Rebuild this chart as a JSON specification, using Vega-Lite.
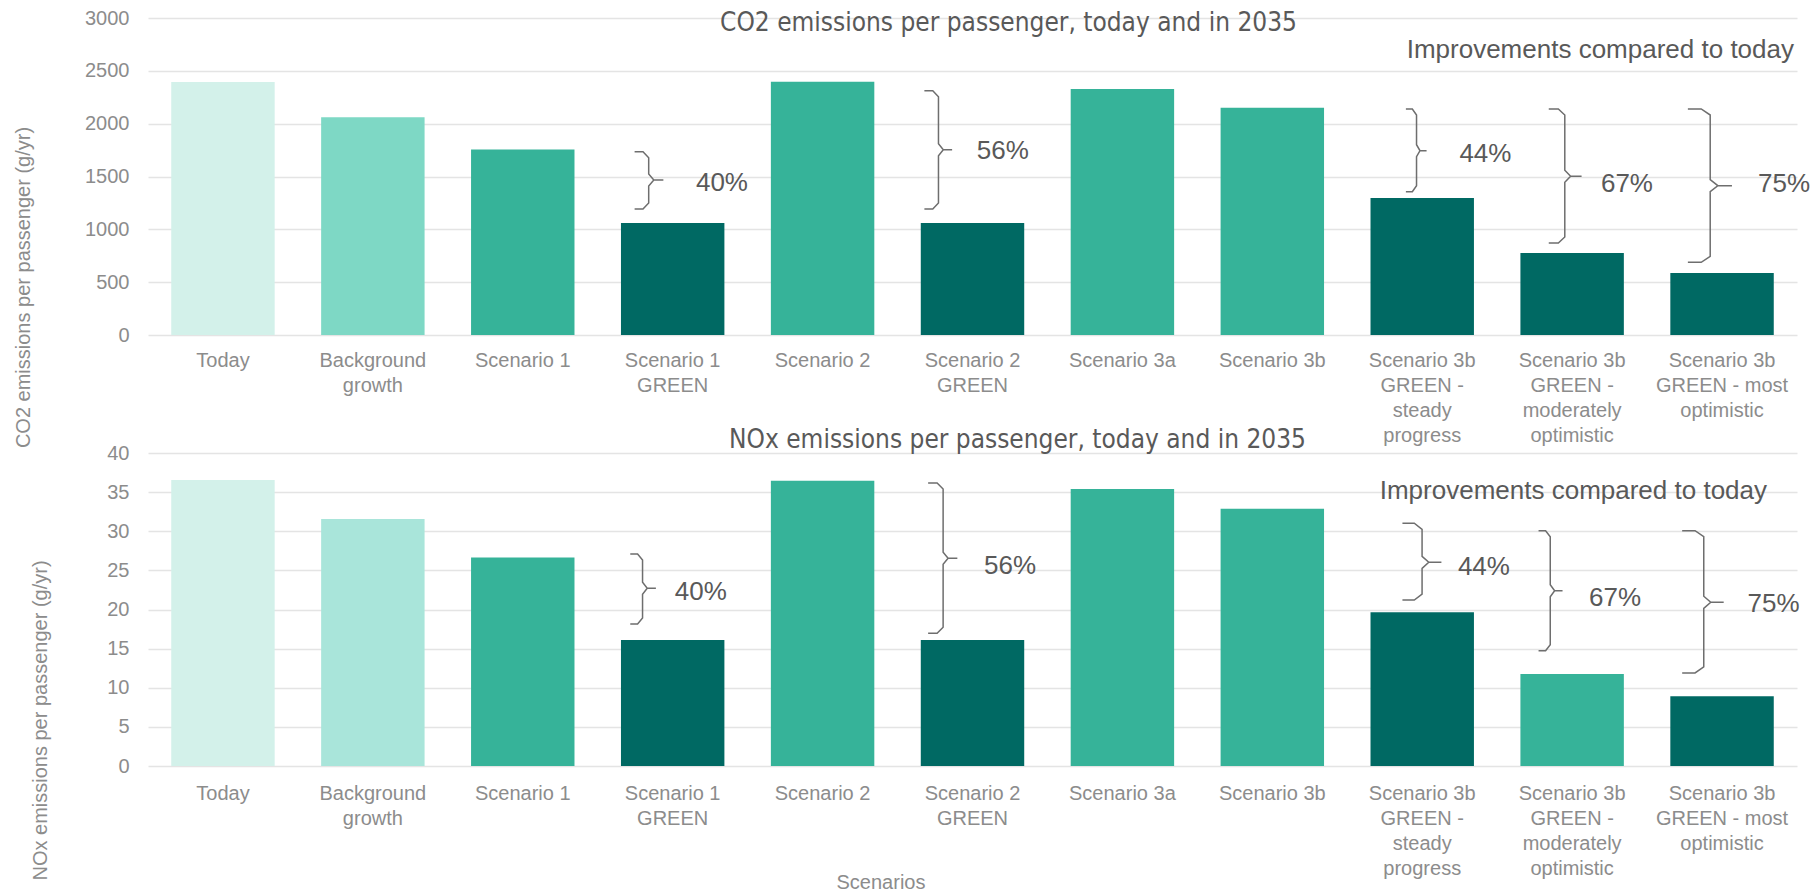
{
  "$schema": "https://vega.github.io/schema/vega-lite/v6.json",
  "background": "white",
  "padding": {"left": 13, "top": 8, "right": 0, "bottom": 0},
  "config": {"view": {"stroke": null}, "font": "Liberation Sans"},
  "datasets": {
    "co2": [
      {"scenario": "Today", "value": 2395, "kind": "Today"},
      {"scenario": "Background growth", "value": 2060, "kind": "Background"},
      {"scenario": "Scenario 1", "value": 1755, "kind": "Scenario"},
      {"scenario": "Scenario 1 GREEN", "value": 1060, "kind": "GREEN"},
      {"scenario": "Scenario 2", "value": 2397, "kind": "Scenario"},
      {"scenario": "Scenario 2 GREEN", "value": 1060, "kind": "GREEN"},
      {"scenario": "Scenario 3a", "value": 2328, "kind": "Scenario"},
      {"scenario": "Scenario 3b", "value": 2150, "kind": "Scenario"},
      {"scenario": "Scenario 3b GREEN - steady progress", "value": 1296, "kind": "GREEN"},
      {"scenario": "Scenario 3b GREEN - moderately optimistic", "value": 776, "kind": "GREEN"},
      {"scenario": "Scenario 3b GREEN - most optimistic", "value": 587, "kind": "GREEN"}
    ],
    "nox": [
      {"scenario": "Today", "value": 36.55, "kind": "Today"},
      {"scenario": "Background growth", "value": 31.57, "kind": "Background"},
      {"scenario": "Scenario 1", "value": 26.65, "kind": "Scenario"},
      {"scenario": "Scenario 1 GREEN", "value": 16.1, "kind": "GREEN"},
      {"scenario": "Scenario 2", "value": 36.46, "kind": "Scenario"},
      {"scenario": "Scenario 2 GREEN", "value": 16.1, "kind": "GREEN"},
      {"scenario": "Scenario 3a", "value": 35.4, "kind": "Scenario"},
      {"scenario": "Scenario 3b", "value": 32.86, "kind": "Scenario"},
      {"scenario": "Scenario 3b GREEN - steady progress", "value": 19.64, "kind": "GREEN"},
      {"scenario": "Scenario 3b GREEN - moderately optimistic", "value": 11.76, "kind": "Scenario"},
      {"scenario": "Scenario 3b GREEN - most optimistic", "value": 8.9, "kind": "GREEN"}
    ],
    "co2Brace": [
      {"gap": "40%", "step": 0, "pos": 3.246, "value": 1735},
      {"gap": "40%", "step": 1, "pos": 3.302, "value": 1735},
      {"gap": "40%", "step": 2, "pos": 3.34, "value": 1678},
      {"gap": "40%", "step": 3, "pos": 3.34, "value": 1524},
      {"gap": "40%", "step": 4, "pos": 3.374, "value": 1467},
      {"gap": "40%", "step": 5, "pos": 3.438, "value": 1467},
      {"gap": "40%", "step": 6, "pos": 3.374, "value": 1467},
      {"gap": "40%", "step": 7, "pos": 3.34, "value": 1410},
      {"gap": "40%", "step": 8, "pos": 3.34, "value": 1249},
      {"gap": "40%", "step": 9, "pos": 3.302, "value": 1192},
      {"gap": "40%", "step": 10, "pos": 3.246, "value": 1192},
      {"gap": "56%", "step": 0, "pos": 5.179, "value": 2312},
      {"gap": "56%", "step": 1, "pos": 5.235, "value": 2312},
      {"gap": "56%", "step": 2, "pos": 5.273, "value": 2255},
      {"gap": "56%", "step": 3, "pos": 5.273, "value": 1811},
      {"gap": "56%", "step": 4, "pos": 5.305, "value": 1754},
      {"gap": "56%", "step": 5, "pos": 5.364, "value": 1754},
      {"gap": "56%", "step": 6, "pos": 5.305, "value": 1754},
      {"gap": "56%", "step": 7, "pos": 5.273, "value": 1697},
      {"gap": "56%", "step": 8, "pos": 5.273, "value": 1249},
      {"gap": "56%", "step": 9, "pos": 5.235, "value": 1192},
      {"gap": "56%", "step": 10, "pos": 5.179, "value": 1192},
      {"gap": "44%", "step": 0, "pos": 8.391, "value": 2139},
      {"gap": "44%", "step": 1, "pos": 8.434, "value": 2139},
      {"gap": "44%", "step": 2, "pos": 8.462, "value": 2082},
      {"gap": "44%", "step": 3, "pos": 8.462, "value": 1801},
      {"gap": "44%", "step": 4, "pos": 8.485, "value": 1744},
      {"gap": "44%", "step": 5, "pos": 8.529, "value": 1744},
      {"gap": "44%", "step": 6, "pos": 8.485, "value": 1744},
      {"gap": "44%", "step": 7, "pos": 8.462, "value": 1687},
      {"gap": "44%", "step": 8, "pos": 8.462, "value": 1413},
      {"gap": "44%", "step": 9, "pos": 8.434, "value": 1356},
      {"gap": "44%", "step": 10, "pos": 8.391, "value": 1356},
      {"gap": "67%", "step": 0, "pos": 9.344, "value": 2139},
      {"gap": "67%", "step": 1, "pos": 9.408, "value": 2139},
      {"gap": "67%", "step": 2, "pos": 9.451, "value": 2082},
      {"gap": "67%", "step": 3, "pos": 9.451, "value": 1559},
      {"gap": "67%", "step": 4, "pos": 9.49, "value": 1502},
      {"gap": "67%", "step": 5, "pos": 9.563, "value": 1502},
      {"gap": "67%", "step": 6, "pos": 9.49, "value": 1502},
      {"gap": "67%", "step": 7, "pos": 9.451, "value": 1445},
      {"gap": "67%", "step": 8, "pos": 9.451, "value": 928},
      {"gap": "67%", "step": 9, "pos": 9.408, "value": 871},
      {"gap": "67%", "step": 10, "pos": 9.344, "value": 871},
      {"gap": "75%", "step": 0, "pos": 10.272, "value": 2139},
      {"gap": "75%", "step": 1, "pos": 10.361, "value": 2139},
      {"gap": "75%", "step": 2, "pos": 10.421, "value": 2082},
      {"gap": "75%", "step": 3, "pos": 10.421, "value": 1470},
      {"gap": "75%", "step": 4, "pos": 10.472, "value": 1413},
      {"gap": "75%", "step": 5, "pos": 10.566, "value": 1413},
      {"gap": "75%", "step": 6, "pos": 10.472, "value": 1413},
      {"gap": "75%", "step": 7, "pos": 10.421, "value": 1356},
      {"gap": "75%", "step": 8, "pos": 10.421, "value": 745},
      {"gap": "75%", "step": 9, "pos": 10.361, "value": 688},
      {"gap": "75%", "step": 10, "pos": 10.272, "value": 688}
    ],
    "noxBrace": [
      {"gap": "40%", "step": 0, "pos": 3.217, "value": 27.09},
      {"gap": "40%", "step": 1, "pos": 3.266, "value": 27.09},
      {"gap": "40%", "step": 2, "pos": 3.299, "value": 26.32},
      {"gap": "40%", "step": 3, "pos": 3.299, "value": 23.48},
      {"gap": "40%", "step": 4, "pos": 3.33, "value": 22.71},
      {"gap": "40%", "step": 5, "pos": 3.388, "value": 22.71},
      {"gap": "40%", "step": 6, "pos": 3.33, "value": 22.71},
      {"gap": "40%", "step": 7, "pos": 3.299, "value": 21.94},
      {"gap": "40%", "step": 8, "pos": 3.299, "value": 18.92},
      {"gap": "40%", "step": 9, "pos": 3.266, "value": 18.15},
      {"gap": "40%", "step": 10, "pos": 3.217, "value": 18.15},
      {"gap": "56%", "step": 0, "pos": 5.204, "value": 36.17},
      {"gap": "56%", "step": 1, "pos": 5.264, "value": 36.17},
      {"gap": "56%", "step": 2, "pos": 5.304, "value": 35.4},
      {"gap": "56%", "step": 3, "pos": 5.304, "value": 27.31},
      {"gap": "56%", "step": 4, "pos": 5.337, "value": 26.54},
      {"gap": "56%", "step": 5, "pos": 5.399, "value": 26.54},
      {"gap": "56%", "step": 6, "pos": 5.337, "value": 26.54},
      {"gap": "56%", "step": 7, "pos": 5.304, "value": 25.77},
      {"gap": "56%", "step": 8, "pos": 5.304, "value": 17.73},
      {"gap": "56%", "step": 9, "pos": 5.264, "value": 16.96},
      {"gap": "56%", "step": 10, "pos": 5.204, "value": 16.96},
      {"gap": "44%", "step": 0, "pos": 8.368, "value": 31.02},
      {"gap": "44%", "step": 1, "pos": 8.447, "value": 31.02},
      {"gap": "44%", "step": 2, "pos": 8.499, "value": 30.25},
      {"gap": "44%", "step": 3, "pos": 8.499, "value": 26.8},
      {"gap": "44%", "step": 4, "pos": 8.544, "value": 26.03},
      {"gap": "44%", "step": 5, "pos": 8.628, "value": 26.03},
      {"gap": "44%", "step": 6, "pos": 8.544, "value": 26.03},
      {"gap": "44%", "step": 7, "pos": 8.499, "value": 25.26},
      {"gap": "44%", "step": 8, "pos": 8.499, "value": 21.98},
      {"gap": "44%", "step": 9, "pos": 8.447, "value": 21.21},
      {"gap": "44%", "step": 10, "pos": 8.368, "value": 21.21},
      {"gap": "67%", "step": 0, "pos": 9.276, "value": 30.07},
      {"gap": "67%", "step": 1, "pos": 9.323, "value": 30.07},
      {"gap": "67%", "step": 2, "pos": 9.354, "value": 29.3},
      {"gap": "67%", "step": 3, "pos": 9.354, "value": 23.17},
      {"gap": "67%", "step": 4, "pos": 9.383, "value": 22.4},
      {"gap": "67%", "step": 5, "pos": 9.436, "value": 22.4},
      {"gap": "67%", "step": 6, "pos": 9.383, "value": 22.4},
      {"gap": "67%", "step": 7, "pos": 9.354, "value": 21.63},
      {"gap": "67%", "step": 8, "pos": 9.354, "value": 15.51},
      {"gap": "67%", "step": 9, "pos": 9.323, "value": 14.74},
      {"gap": "67%", "step": 10, "pos": 9.276, "value": 14.74},
      {"gap": "75%", "step": 0, "pos": 10.234, "value": 30.07},
      {"gap": "75%", "step": 1, "pos": 10.32, "value": 30.07},
      {"gap": "75%", "step": 2, "pos": 10.378, "value": 29.3},
      {"gap": "75%", "step": 3, "pos": 10.378, "value": 21.69},
      {"gap": "75%", "step": 4, "pos": 10.425, "value": 20.92},
      {"gap": "75%", "step": 5, "pos": 10.511, "value": 20.92},
      {"gap": "75%", "step": 6, "pos": 10.425, "value": 20.92},
      {"gap": "75%", "step": 7, "pos": 10.378, "value": 20.15},
      {"gap": "75%", "step": 8, "pos": 10.378, "value": 12.66},
      {"gap": "75%", "step": 9, "pos": 10.32, "value": 11.89},
      {"gap": "75%", "step": 10, "pos": 10.234, "value": 11.89}
    ],
    "co2Pct": [
      {"gap": "40%", "pos": 3.655, "value": 1438},
      {"gap": "56%", "pos": 5.529, "value": 1744},
      {"gap": "44%", "pos": 8.748, "value": 1713},
      {"gap": "67%", "pos": 9.692, "value": 1429},
      {"gap": "75%", "pos": 10.74, "value": 1429}
    ],
    "noxPct": [
      {"gap": "40%", "pos": 3.514, "value": 22.2},
      {"gap": "56%", "pos": 5.577, "value": 25.6},
      {"gap": "44%", "pos": 8.738, "value": 25.39},
      {"gap": "67%", "pos": 9.613, "value": 21.43},
      {"gap": "75%", "pos": 10.67, "value": 20.7}
    ]
  },
  "spacing": -22,
  "resolve": {"scale": {"color": "independent"}},
  "vconcat": [
    {
      "width": 1649,
      "height": 317,
      "title": {"text": "CO2 emissions per passenger, today and in 2035", "font": "DejaVu Sans Condensed, Liberation Sans", "fontSize": 26, "fontWeight": "normal", "color": "#595959", "anchor": "middle", "frame": "group", "baseline": "middle", "offset": -40.5, "dx": 36},
      "resolve": {"scale": {"x": "independent"}, "axis": {"x": "independent"}},
      "layer": [
        {
          "data": {"name": "co2"},
          "mark": {"type": "bar"},
          "encoding": {
            "x": {"field": "scenario", "type": "nominal", "sort": null,
              "scale": {"paddingInner": 0.31, "paddingOuter": 0.155},
              "axis": {"title": null, "labelAngle": 0, "labelFontSize": 20, "labelColor": "#8C8C8C", "labelLineHeight": 25, "labelPadding": 15, "labelLimit": 0, "labelBaseline": "top", "ticks": false, "domain": false, "grid": false,
                "labelExpr": "datum.value == 'Background growth' ? ['Background','growth'] : datum.value == 'Scenario 1 GREEN' ? ['Scenario 1','GREEN'] : datum.value == 'Scenario 2 GREEN' ? ['Scenario 2','GREEN'] : datum.value == 'Scenario 3b GREEN - steady progress' ? ['Scenario 3b','GREEN -','steady','progress'] : datum.value == 'Scenario 3b GREEN - moderately optimistic' ? ['Scenario 3b','GREEN -','moderately','optimistic'] : datum.value == 'Scenario 3b GREEN - most optimistic' ? ['Scenario 3b','GREEN - most','optimistic'] : datum.label"}},
            "y": {"field": "value", "type": "quantitative", "scale": {"domain": [0, 3000]},
              "axis": {"values": [0, 500, 1000, 1500, 2000, 2500, 3000], "format": "d", "title": "CO2 emissions per passenger (g/yr)", "titleFontSize": 20, "titleColor": "#8C8C8C", "titleFontWeight": "normal", "titleX": -124.5, "titleY": 269, "titleAlign": "center", "titleBaseline": "middle", "labelFontSize": 20, "labelColor": "#8C8C8C", "labelPadding": 19, "ticks": false, "domain": false, "gridColor": "#E4E4E4", "gridWidth": 1.5}},
            "color": {"field": "kind", "type": "nominal", "legend": null,
              "scale": {"domain": ["Today", "Background", "Scenario", "GREEN"], "range": ["#D3F1EA", "#7ED8C5", "#36B399", "#006963"]}}
          }
        },
        {
          "data": {"values": [{"note": "Improvements compared to today"}]},
          "mark": {"type": "text", "align": "right", "baseline": "middle", "fontSize": 26, "color": "#595959", "dx": -3},
          "encoding": {
            "x": {"datum": 11, "type": "quantitative", "scale": {"domain": [0, 11], "nice": false, "zero": false}, "axis": null},
            "y": {"datum": 2700, "type": "quantitative", "scale": {"domain": [0, 3000]},
              "axis": {"values": [0, 500, 1000, 1500, 2000, 2500, 3000], "format": "d", "title": "CO2 emissions per passenger (g/yr)", "titleFontSize": 20, "titleColor": "#8C8C8C", "titleFontWeight": "normal", "titleX": -124.5, "titleY": 269, "titleAlign": "center", "titleBaseline": "middle", "labelFontSize": 20, "labelColor": "#8C8C8C", "labelPadding": 19, "ticks": false, "domain": false, "gridColor": "#E4E4E4", "gridWidth": 1.5}},
            "text": {"field": "note"}
          }
        },
        {
          "data": {"name": "co2Brace"},
          "mark": {"type": "line", "color": "#6E6E6E", "strokeWidth": 1.5},
          "encoding": {
            "x": {"field": "pos", "type": "quantitative", "scale": {"domain": [0, 11], "nice": false, "zero": false}, "axis": null},
            "y": {"field": "value", "type": "quantitative", "scale": {"domain": [0, 3000]},
              "axis": {"values": [0, 500, 1000, 1500, 2000, 2500, 3000], "format": "d", "title": "CO2 emissions per passenger (g/yr)", "titleFontSize": 20, "titleColor": "#8C8C8C", "titleFontWeight": "normal", "titleX": -124.5, "titleY": 269, "titleAlign": "center", "titleBaseline": "middle", "labelFontSize": 20, "labelColor": "#8C8C8C", "labelPadding": 19, "ticks": false, "domain": false, "gridColor": "#E4E4E4", "gridWidth": 1.5}},
            "detail": {"field": "gap"},
            "order": {"field": "step"}
          }
        },
        {
          "data": {"name": "co2Pct"},
          "mark": {"type": "text", "align": "left", "baseline": "middle", "fontSize": 26, "color": "#595959"},
          "encoding": {
            "x": {"field": "pos", "type": "quantitative", "scale": {"domain": [0, 11], "nice": false, "zero": false}, "axis": null},
            "y": {"field": "value", "type": "quantitative", "scale": {"domain": [0, 3000]},
              "axis": {"values": [0, 500, 1000, 1500, 2000, 2500, 3000], "format": "d", "title": "CO2 emissions per passenger (g/yr)", "titleFontSize": 20, "titleColor": "#8C8C8C", "titleFontWeight": "normal", "titleX": -124.5, "titleY": 269, "titleAlign": "center", "titleBaseline": "middle", "labelFontSize": 20, "labelColor": "#8C8C8C", "labelPadding": 19, "ticks": false, "domain": false, "gridColor": "#E4E4E4", "gridWidth": 1.5}},
            "text": {"field": "gap"}
          }
        }
      ]
    },
    {
      "width": 1649,
      "height": 313,
      "title": {"text": "NOx emissions per passenger, today and in 2035", "font": "DejaVu Sans Condensed, Liberation Sans", "fontSize": 26, "fontWeight": "normal", "color": "#595959", "anchor": "middle", "frame": "group", "baseline": "middle", "offset": -22.5, "dx": 45},
      "resolve": {"scale": {"x": "independent"}, "axis": {"x": "independent"}},
      "layer": [
        {
          "data": {"name": "nox"},
          "mark": {"type": "bar"},
          "encoding": {
            "x": {"field": "scenario", "type": "nominal", "sort": null,
              "scale": {"paddingInner": 0.31, "paddingOuter": 0.155},
              "axis": {"title": "Scenarios", "titleFontSize": 20, "titleColor": "#8C8C8C", "titleFontWeight": "normal", "titleX": 732.5, "titleY": 116, "titleAlign": "center", "titleBaseline": "middle",
                "labelAngle": 0, "labelFontSize": 20, "labelColor": "#8C8C8C", "labelLineHeight": 25, "labelPadding": 17, "labelLimit": 0, "labelBaseline": "top", "ticks": false, "domain": false, "grid": false,
                "labelExpr": "datum.value == 'Background growth' ? ['Background','growth'] : datum.value == 'Scenario 1 GREEN' ? ['Scenario 1','GREEN'] : datum.value == 'Scenario 2 GREEN' ? ['Scenario 2','GREEN'] : datum.value == 'Scenario 3b GREEN - steady progress' ? ['Scenario 3b','GREEN -','steady','progress'] : datum.value == 'Scenario 3b GREEN - moderately optimistic' ? ['Scenario 3b','GREEN -','moderately','optimistic'] : datum.value == 'Scenario 3b GREEN - most optimistic' ? ['Scenario 3b','GREEN - most','optimistic'] : datum.label"}},
            "y": {"field": "value", "type": "quantitative", "scale": {"domain": [0, 40]},
              "axis": {"values": [0, 5, 10, 15, 20, 25, 30, 35, 40], "format": "d", "title": "NOx emissions per passenger (g/yr)", "titleFontSize": 20, "titleColor": "#8C8C8C", "titleFontWeight": "normal", "titleX": -107.5, "titleY": 267, "titleAlign": "center", "titleBaseline": "middle", "labelFontSize": 20, "labelColor": "#8C8C8C", "labelPadding": 19, "ticks": false, "domain": false, "gridColor": "#E4E4E4", "gridWidth": 1.5}},
            "color": {"field": "kind", "type": "nominal", "legend": null,
              "scale": {"domain": ["Today", "Background", "Scenario", "GREEN"], "range": ["#D3F1EA", "#A9E5DA", "#36B399", "#006963"]}}
          }
        },
        {
          "data": {"values": [{"note": "Improvements compared to today"}]},
          "mark": {"type": "text", "align": "right", "baseline": "middle", "fontSize": 26, "color": "#595959"},
          "encoding": {
            "x": {"datum": 10.8, "type": "quantitative", "scale": {"domain": [0, 11], "nice": false, "zero": false}, "axis": null},
            "y": {"datum": 35.18, "type": "quantitative", "scale": {"domain": [0, 40]},
              "axis": {"values": [0, 5, 10, 15, 20, 25, 30, 35, 40], "format": "d", "title": "NOx emissions per passenger (g/yr)", "titleFontSize": 20, "titleColor": "#8C8C8C", "titleFontWeight": "normal", "titleX": -107.5, "titleY": 267, "titleAlign": "center", "titleBaseline": "middle", "labelFontSize": 20, "labelColor": "#8C8C8C", "labelPadding": 19, "ticks": false, "domain": false, "gridColor": "#E4E4E4", "gridWidth": 1.5}},
            "text": {"field": "note"}
          }
        },
        {
          "data": {"name": "noxBrace"},
          "mark": {"type": "line", "color": "#6E6E6E", "strokeWidth": 1.5},
          "encoding": {
            "x": {"field": "pos", "type": "quantitative", "scale": {"domain": [0, 11], "nice": false, "zero": false}, "axis": null},
            "y": {"field": "value", "type": "quantitative", "scale": {"domain": [0, 40]},
              "axis": {"values": [0, 5, 10, 15, 20, 25, 30, 35, 40], "format": "d", "title": "NOx emissions per passenger (g/yr)", "titleFontSize": 20, "titleColor": "#8C8C8C", "titleFontWeight": "normal", "titleX": -107.5, "titleY": 267, "titleAlign": "center", "titleBaseline": "middle", "labelFontSize": 20, "labelColor": "#8C8C8C", "labelPadding": 19, "ticks": false, "domain": false, "gridColor": "#E4E4E4", "gridWidth": 1.5}},
            "detail": {"field": "gap"},
            "order": {"field": "step"}
          }
        },
        {
          "data": {"name": "noxPct"},
          "mark": {"type": "text", "align": "left", "baseline": "middle", "fontSize": 26, "color": "#595959"},
          "encoding": {
            "x": {"field": "pos", "type": "quantitative", "scale": {"domain": [0, 11], "nice": false, "zero": false}, "axis": null},
            "y": {"field": "value", "type": "quantitative", "scale": {"domain": [0, 40]},
              "axis": {"values": [0, 5, 10, 15, 20, 25, 30, 35, 40], "format": "d", "title": "NOx emissions per passenger (g/yr)", "titleFontSize": 20, "titleColor": "#8C8C8C", "titleFontWeight": "normal", "titleX": -107.5, "titleY": 267, "titleAlign": "center", "titleBaseline": "middle", "labelFontSize": 20, "labelColor": "#8C8C8C", "labelPadding": 19, "ticks": false, "domain": false, "gridColor": "#E4E4E4", "gridWidth": 1.5}},
            "text": {"field": "gap"}
          }
        }
      ]
    }
  ]
}
